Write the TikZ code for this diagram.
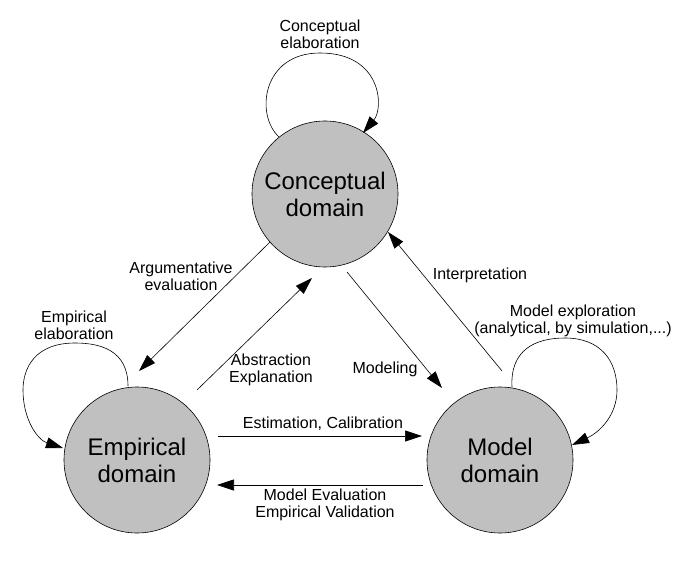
\documentclass[tikz,border=0pt]{standalone}
\usepackage{fontspec}
\setmainfont{Liberation Sans}
\usetikzlibrary{arrows.meta}
\definecolor{domgray}{RGB}{192,192,192}
\begin{document}
\begin{tikzpicture}[x=1pt,y=-1pt,
  domnode/.style={circle, draw=black, fill=domgray, line width=0.6pt, minimum size=146pt, inner sep=0pt, align=center, font=\fontsize{24}{27}\selectfont},
  lbl/.style={align=center, font=\fontsize{16}{17}\selectfont, inner sep=0pt},
  conn/.style={line width=0.6pt, -{Triangle[length=17pt,width=11pt]}}]
\useasboundingbox (0,0) rectangle (694,583);

% domains
\node[domnode] (conc) at (325,194) {Conceptual\\domain};
\node[domnode] (emp) at (137,460) {Empirical\\domain};
\node[domnode] (mod) at (500,460) {Model\\domain};

% connector end points
\coordinate (ce1) at (279,137);
\coordinate (ce2) at (363,133);
\coordinate (ee1) at (128,386);
\coordinate (ee2) at (63,448);
\coordinate (me1) at (512,387);
\coordinate (me2) at (572,445);
\coordinate (ar1) at (270,242);
\coordinate (ar2) at (139,371);
\coordinate (ab1) at (197,390);
\coordinate (ab2) at (312,278);
\coordinate (mo1) at (347,272);
\coordinate (mo2) at (442,388);
\coordinate (in1) at (502,371);
\coordinate (in2) at (388,232);
\coordinate (es1) at (218,436);
\coordinate (es2) at (422,436);
\coordinate (mv1) at (423,485);
\coordinate (mv2) at (217,485);

% loops
\draw[conn] (ce1) .. controls (255,115) and (262,53) .. (320,53)
                  .. controls (382,53) and (384,108) .. (ce2);
\draw[conn] (ee1) .. controls (128,350) and (100,343) .. (75,343)
                  .. controls (35,343) and (23,368) .. (23,390)
                  .. controls (23,420) and (38,440) .. (ee2);
\draw[conn] (me1) .. controls (510,350) and (535,338) .. (565,338)
                  .. controls (600,338) and (617,360) .. (617,390)
                  .. controls (617,415) and (600,432) .. (me2);

% straight connectors
\draw[conn] (ar1) -- (ar2);
\draw[conn] (ab1) -- (ab2);
\draw[conn] (mo1) -- (mo2);
\draw[conn] (in1) -- (in2);
\draw[conn] (es1) -- (es2);
\draw[conn] (mv1) -- (mv2);

% labels
\node[lbl] (l1) at (320,34) {Conceptual\\elaboration};
\node[lbl] (l2) at (181,276) {Argumentative\\evaluation};
\node[lbl] (l3) at (271,370) {Abstraction\\Explanation};
\node[lbl] (l4) at (385,369) {Modeling};
\node[lbl] (l5) at (480,275) {Interpretation};
\node[lbl] (l6) at (573,321) {Model exploration\\(analytical, by simulation,...)};
\node[lbl] (l7) at (74,325) {Empirical\\elaboration};
\node[lbl] (l8) at (323,424) {Estimation, Calibration};
\node[lbl] (l9) at (325,505) {Model Evaluation\\Empirical Validation};
\end{tikzpicture}
\end{document}
